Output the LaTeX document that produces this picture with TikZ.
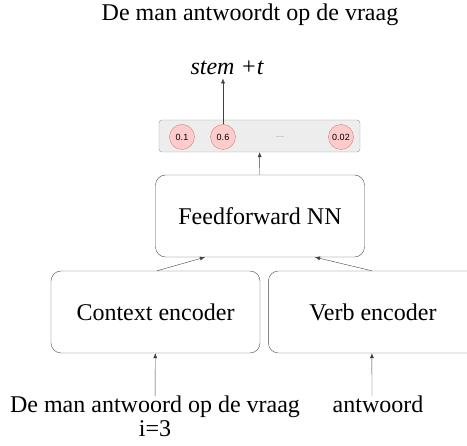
\documentclass[tikz,border=0pt]{standalone}
\usepackage{fontspec}
\setmainfont{Liberation Serif}
\newfontfamily\circfont{Liberation Sans}
\usetikzlibrary{positioning, arrows.meta}

\begin{document}
\begin{tikzpicture}[x=1pt, y=-1pt, >=Latex]
		\tikzstyle{block}=[rectangle, rounded corners=10pt, draw=black!70, minimum width=209pt, minimum height=82pt, font=\fontsize{24}{28}\selectfont]
		\tikzstyle{prob}=[circle, minimum size=25pt, inner sep=0pt, fill=red!20, draw=red!60!black!50, font=\circfont\fontsize{9}{10}\selectfont]
		\tikzstyle{word}=[inner sep=0pt, anchor=base, font=\fontsize{24}{28}\selectfont]
		\tikzstyle{connect}=[-{Latex[length=5pt, width=4pt]}, draw=black!75]
		\useasboundingbox (0,0) rectangle (467,446);
		\node[word] (title) at (250,21) {De man antwoordt op de vraag};
		\node[word, font=\itshape\fontsize{24}{28}\selectfont, inner sep=3pt] (stem) at (227,75) {stem +t};
		\node[rectangle, rounded corners=3pt, fill=black!7, draw=black!40, minimum width=201pt, minimum height=32pt] (out) at (259.5,136) {};
		\node[prob] (p1) at (182,137) {0.1};
		\node[prob] (p2) at (223,137) {0.6};
		\node[text=black!45, font=\circfont\fontsize{9}{10}\selectfont] (dots) at (280,137) {\dots};
		\node[prob] (p3) at (341,137) {0.02};
		\node[block] (ff) at (260,216) {Feedforward NN};
		\node[block] (ctx) at (155.5,312) {Context encoder};
		\node[block] (verb) [right=8pt of ctx] {Verb encoder};
		\node[word] (sent) at (155,413) {De man antwoord op de vraag};
		\node[word] (idx) at (155,437) {i=3};
		\node[word] (verbin) at (378,413) {antwoord};
		\path
		(p2) edge [connect] (p2 |- stem.south)
		(ff) edge [connect] (out)
		([xshift=1.5pt]ctx.north) edge [connect] ([xshift=-55pt]ff.south)
		([xshift=-1pt]verb.north) edge [connect] ([xshift=55pt]ff.south)
		(sent) edge [connect] (ctx)
		([xshift=-6pt]verbin.north) edge [connect] ([xshift=-1pt]verb.south)
		;
	\end{tikzpicture}
\end{document}
